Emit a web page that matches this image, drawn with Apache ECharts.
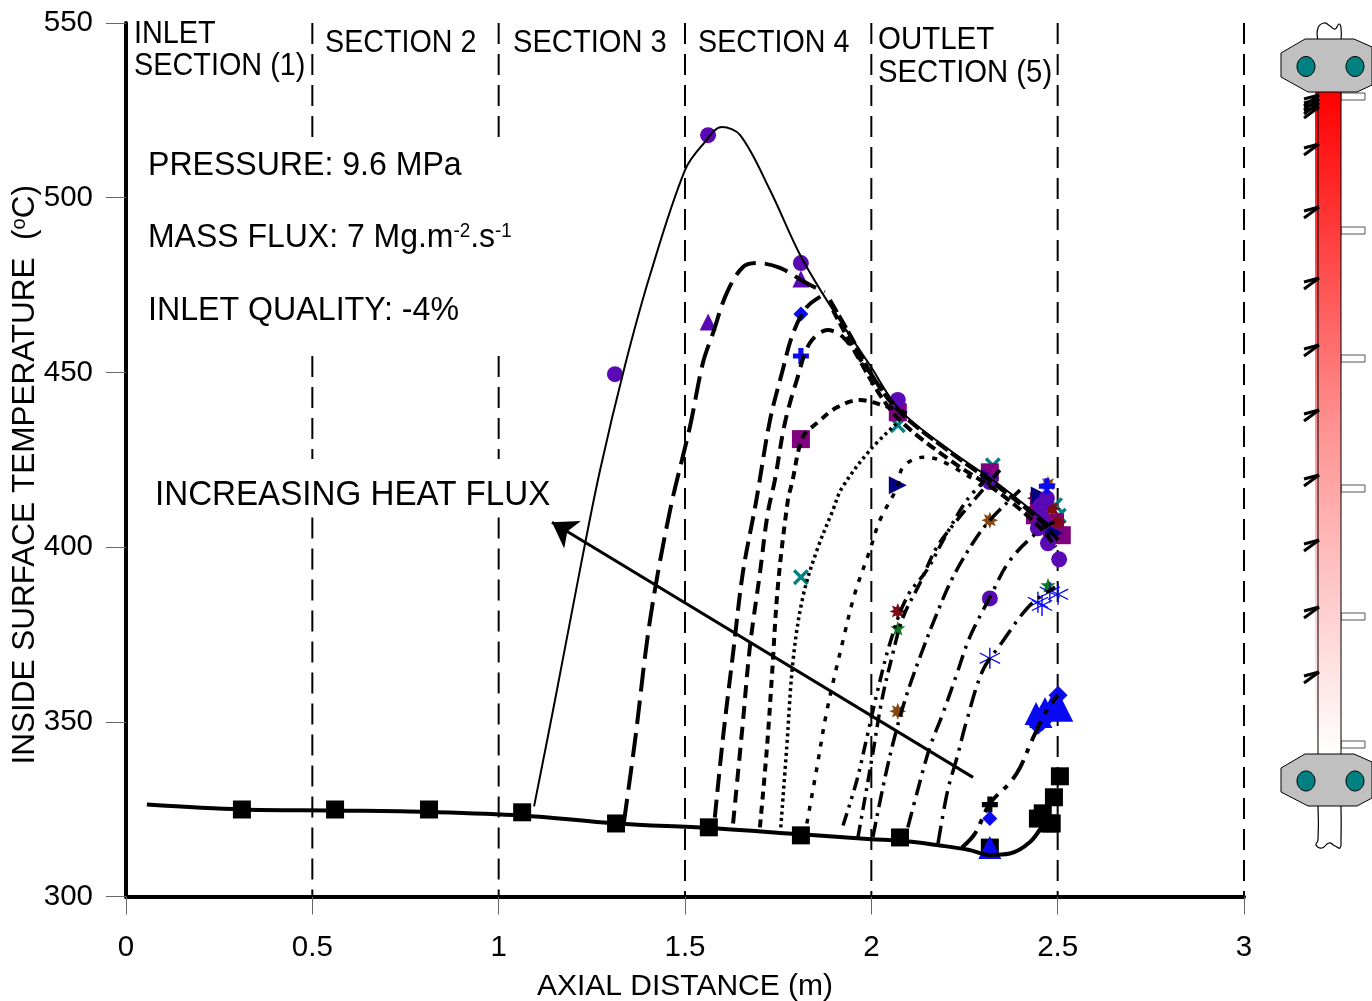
<!DOCTYPE html>
<html><head><meta charset="utf-8">
<style>html,body{margin:0;padding:0;background:#fff}#c{width:1372px;height:1001px}</style>
<script src="https://cdn.jsdelivr.net/npm/echarts@6/dist/echarts.min.js"></script>
</head><body><div id="c"></div>
<script>
const sectionLabels = ['SECTION 2','SECTION 3','SECTION 4'];
const sectionBoundariesFull = [1.5,2,2.5,3];
const sectionBoundariesSplit = [0.5,1];

const baseline = [[0.056,326.3],[0.311,324.9],[0.561,324.6],[0.813,324.2],[1.063,323.2],[1.315,320.9],[1.564,319.6],[1.811,317.8],[2.0,316.4],[2.077,316],[2.184,314.6],[2.26,313.4],[2.318,311.9],[2.372,312.3],[2.425,315.5],[2.46,320.5]];
const curve1 = [[1.095,325.8],[1.151,356.1],[1.218,393.4],[1.272,422],[1.339,452],[1.406,477.8],[1.5,507.9],[1.55,515.5],[1.599,520.2],[1.648,517.9],[1.728,502.2],[1.809,483.6],[1.889,469.2],[1.996,452.1],[2.077,439.2],[2.211,427.7],[2.345,417.7],[2.479,406.2]];
const curve2 = [[1.336,321.2],[1.366,344.7],[1.406,379],[1.46,410.6],[1.513,434.3],[1.548,452.7],[1.575,461.2],[1.612,472.7],[1.655,480.1],[1.693,481.3],[1.755,479.9],[1.822,475.8],[1.875,473]];
const curve3 = [[1.58,322.6],[1.602,345.5],[1.629,369.6],[1.655,392.5],[1.688,411.4],[1.696,416.3],[1.728,436.3],[1.76,449.8],[1.79,461.2],[1.827,468.7],[1.87,472.1]];
const curve4 = [[1.629,320.9],[1.655,349.5],[1.674,371.3],[1.701,392.5],[1.722,409.7],[1.741,419.1],[1.768,435.5],[1.8,447.8],[1.835,458.4],[1.883,462.1],[1.924,460.1],[1.977,452.7],[2.031,444.9]];
const curve5 = [[1.701,319.8],[1.72,342.7],[1.733,362.7],[1.749,388.5],[1.776,413.4],[1.787,418.3],[1.816,431.5],[1.854,435.5],[1.908,440],[1.969,442.1],[2.031,440.6],[2.095,438.3]];
const curve6 = [[1.757,319.8],[1.773,342.7],[1.79,367.6],[1.816,385.6],[1.854,399.1],[1.897,410.6],[1.921,416.9],[1.996,427.7],[2.069,435.5]];
const curve7 = [[1.827,320.9],[1.854,336.9],[1.881,353.3],[1.924,373.3],[1.956,386.8],[1.996,399.1],[2.023,407.7],[2.069,417.1],[2.085,422.9],[2.138,425.7],[2.184,424.9],[2.278,419.1]];
const curve8 = [[1.924,320.3],[1.961,333.2],[1.988,345.5],[2.015,358.1],[2.05,372.5],[2.095,385.6],[2.149,393.4],[2.197,402.8],[2.256,413.4],[2.305,419.1]];
const curve9 = [[1.964,316.9],[1.988,331.2],[2.004,341],[2.028,356.1],[2.055,368.4],[2.085,379.9],[2.13,389.6],[2.176,400],[2.23,407.7],[2.291,415.4],[2.345,422]];
const curve10 = [[2.004,316.9],[2.031,331.2],[2.058,343.8],[2.09,356.1],[2.13,368.4],[2.176,381],[2.219,391.4],[2.272,401.1],[2.318,407.7],[2.399,416.3]];
const curve11 = [[2.098,319.8],[2.122,329.5],[2.157,342.7],[2.192,352.4],[2.23,363.9],[2.264,374.2],[2.318,385.6],[2.372,396.2],[2.452,404.8],[2.501,407.7]];
const curve12 = [[2.179,315.2],[2.205,330.4],[2.23,339.8],[2.256,350.4],[2.299,364.7],[2.345,371.9],[2.425,383.3],[2.493,388.6]];
const curve13 = [[2.243,314],[2.278,318],[2.318,326.6],[2.372,332.6],[2.399,336.9],[2.431,344.7],[2.471,353.3],[2.501,357.6]];
const envelopeA = [[1.889,470.7],[1.943,460.7],[2.01,447.8],[2.077,438.6],[2.211,427.2],[2.345,416.9],[2.452,407.7],[2.501,402]];
const envelopeB = [[1.897,467.8],[2.01,445.8],[2.077,436.3],[2.211,424.9],[2.345,415.4],[2.452,405.7],[2.495,400]];
const arrowTail = [2.273,334.1];
const arrowHead = [1.143,407.1];

const blackSquares = [[0.311,324.9],[0.561,324.9],[0.813,324.9],[1.063,324.1],[1.315,320.9],[1.564,319.8],[1.811,317.5],[2.077,316.9],[2.318,314],[2.447,322.3],[2.46,323.8],[2.484,320.9],[2.474,320.9],[2.49,328.4],[2.506,334.4]];
const blueTriangles = [[2.318,314],[2.442,352.4],[2.455,351.5],[2.466,353.8],[2.484,354.4],[2.501,354.7],[2.511,353.3]];
const blueDiamondsLarge = [[2.447,349],[2.458,350],[2.468,351],[2.501,357.6],[2.479,352.7]];
const blueDiamondsSmall = [[2.318,322.3],[1.811,466.7]];
const blackCross = [[2.318,326.3]];
const blueAsterisks = [[2.318,368.2],[2.447,384.2],[2.458,383.3],[2.479,387.1],[2.501,386.5]];
const greenStars = [[2.071,376.8],[2.474,389.1]];
const redStars = [[2.071,381.6],[2.485,411],[2.501,407.1],[2.44,414]];
const brownStars = [[2.071,353],[2.318,407.7],[2.474,418]];
const purpleCircles = [[1.562,517.9],[1.312,449.5],[1.811,481.3],[2.071,442.1],[2.318,385.3],[2.504,396.5],[2.471,414],[2.455,412],[2.447,405.4],[2.452,410],[2.46,407],[2.474,401.1],[2.318,418.6]];
const purpleTriangles = [[1.562,464.4],[1.811,476.7]];
const bluePlus = [[1.811,454.7],[2.471,417.4]];
const purpleSquares = [[1.811,430.9],[2.071,438.6],[2.318,421.4],[2.439,409.1],[2.45,413],[2.511,403.4],[2.493,407.1],[2.485,404]];
const tealCrosses = [[1.811,391.4],[2.071,434.9],[2.326,423.4],[2.493,412],[2.503,409]];
const navyTriangles = [[2.071,417.7],[2.318,419.7],[2.452,414.8],[2.49,404]];

const PLUS='path://M3.4,0H6.6V3.4H10V6.6H6.6V10H3.4V6.6H0V3.4H3.4Z';
const XS='path://M1.5,0L5,3.5L8.5,0L10,1.5L6.5,5L10,8.5L8.5,10L5,6.5L1.5,10L0,8.5L3.5,5L0,1.5Z';
const STAR5='path://M5,0L6.2,3.6L10,3.6L7,5.9L8.1,9.6L5,7.4L1.9,9.6L3,5.9L0,3.6L3.8,3.6Z';
const STAR8='path://M5,0L6,2.6L8.5,1.5L7.4,4L10,5L7.4,6L8.5,8.5L6,7.4L5,10L4,7.4L1.5,8.5L2.6,6L0,5L2.6,4L1.5,1.5L4,2.6Z';
const AST='path://M4.7,0H5.3V4.5L9.1,2.3L9.4,2.8L5.6,5L9.4,7.2L9.1,7.7L5.3,5.5V10H4.7V5.5L.9,7.7L.6,7.2L4.4,5L.6,2.8L.9,2.3L4.7,4.5Z';
const FONT='"Liberation Sans",Arial,sans-serif';

function lineS(data,width,dash,z){return {type:'line',data,smooth:0.35,symbol:'none',silent:true,z:z||6,
  lineStyle:{color:'#000',width,type:dash||'solid',cap:'butt'}};}
function dotS(data,symbol,size,color,rot){return {type:'scatter',data,symbol,symbolSize:size,symbolRotate:rot||0,silent:true,z:3,itemStyle:{color,opacity:1}};}
function vline(x,y0,y1){return {type:'line',data:[[x,y0],[x,y1]],symbol:'none',silent:true,z:2,lineStyle:{color:'#000',width:2,type:[21,10],cap:'butt'}};}

const series=[];
sectionBoundariesFull.forEach(x=>series.push(vline(x,550,300)));
sectionBoundariesSplit.forEach(x=>{series.push(vline(x,550,516));series.push(vline(x,454.7,425.2));series.push(vline(x,408.5,300));});
series.push(
  dotS(tealCrosses,XS,16,'#008080'),
  dotS(purpleSquares,'rect',18,'#800080'),
  dotS(purpleTriangles,'triangle',17,'#5a0ab4'),
  dotS(redStars,STAR8,17,'#7d0a14'),
  dotS(brownStars,STAR8,17,'#85460f'),
  dotS(greenStars,STAR5,15,'#0a7a1e'),
  dotS(navyTriangles,'triangle',18,'#000080',-90),
  dotS(purpleCircles,'circle',16,'#5a0ab4'),
  dotS(bluePlus,PLUS,16,'#0a0af0'),
  dotS(blueAsterisks,AST,21,'#0a0af0'),
  dotS(blackSquares,'rect',18,'#000'),
  dotS(blackCross,PLUS,16,'#000'),
  dotS(blueDiamondsLarge,'diamond',19,'#0a0af0'),
  dotS(blueDiamondsSmall,'diamond',15,'#0a0af0'),
  dotS(blueTriangles,'triangle',23,'#0a0af0')
);
series.push(
  lineS(baseline,4),
  lineS(curve1,2),
  lineS(curve2,4,[24,9]),
  lineS(curve3,4,[18,8]),
  lineS(curve4,4,[13,8]),
  lineS(curve5,4,[8,6]),
  lineS(curve6,3.5,[3,3.5]),
  lineS(curve7,3.5,[5,8]),
  lineS(curve8,3.5,[13,6,3,6,3,6]),
  lineS(curve9,3.5,[13,6,3,6]),
  lineS(curve10,3.5,[16,6,3,6]),
  lineS(curve11,3.5,[16,7,3,7]),
  lineS(curve12,3.5,[18,7,3,7]),
  lineS(curve13,4,[22,8,5,8]),
  lineS(envelopeA,4,[14,4]),
  lineS(envelopeB,4,[10,5])
);
series.push({type:'line',data:[],silent:true,z:5,markLine:{silent:true,animation:false,symbol:['none','arrow'],symbolSize:24,
  label:{show:false},lineStyle:{color:'#000',width:3,type:'solid'},emphasis:{disabled:true},
  data:[[{coord:arrowTail},{coord:arrowHead}]]}});

const txt=(text,x,y,sx,extra)=>({type:'text',x,y,scaleX:sx,silent:true,z:20,style:Object.assign({text,font:'31px '+FONT,fill:'#000'},extra||{})});
const graphic=[
  txt('INLET',134,19,.93),txt('SECTION (1)',134,51,.93),
  txt(sectionLabels[0],325,28,.925),txt(sectionLabels[1],513,28,.94),txt(sectionLabels[2],698,28,.925),
  txt('OUTLET',878,25,.95),txt('SECTION (5)',878,58,.945),
  txt('PRESSURE: 9.6 MPa',148,149,.943,{font:'34px '+FONT}),
  txt('MASS FLUX: 7 Mg.m{s|-2}.s{s|-1}',148,221,.94,{font:'34px '+FONT,rich:{s:{font:'20px '+FONT,verticalAlign:'top',padding:[0,0,14,0],fill:'#000'}}}),
  txt('INLET QUALITY: -4%',148,294,.946,{font:'34px '+FONT}),
  txt('INCREASING HEAT FLUX',155,478,.947,{font:'35px '+FONT}),
];
// apparatus schematic
const gs=[];
const wall={stroke:'#000',lineWidth:1.2,fill:'none'};
gs.push({type:'polyline',shape:{smooth:0.5,points:[[1318,40],[1318,28],[1324,23],[1330,26],[1335,29],[1339,24],[1341,28],[1341,40]]},style:Object.assign({},wall)});
gs.push({type:'polyline',shape:{smooth:0.5,points:[[1318,806],[1318,840],[1316,845],[1322,848],[1329,843],[1335,846],[1340,848],[1341,840],[1341,806]]},style:Object.assign({},wall)});
[96,230,358,488,616,744].forEach(y=>gs.push({type:'rect',shape:{x:1341,y:y-3,width:24,height:7},style:{fill:'#fff',stroke:'#555',lineWidth:1}}));
gs.push({type:'rect',shape:{x:1315,y:92,width:26,height:662},style:{fill:new echarts.graphic.LinearGradient(0,0,0,1,[{offset:0,color:'#ff0000'},{offset:0.15,color:'#ff2a2a'},{offset:0.5,color:'#ff9090'},{offset:1,color:'#ffffff'}])}});
gs.push({type:'line',shape:{x1:1318,y1:92,x2:1318,y2:754},style:{stroke:'#000',lineWidth:1}});
gs.push({type:'line',shape:{x1:1341,y1:92,x2:1341,y2:754},style:{stroke:'#000',lineWidth:1}});
[[39,92,53,77,47,85],[754,806,768,792,762,798]].forEach(f=>{
  gs.push({type:'polygon',shape:{points:[[1281,f[2]],[1305,f[0]],[1354,f[0]],[1372,f[4]],[1372,f[5]],[1357,f[1]],[1308,f[1]],[1281,f[3]]]},style:{fill:'#c0c0c0',stroke:'#000',lineWidth:1}});
  const cy=(f[0]+f[1])/2+1;
  [1306,1355].forEach(cx=>gs.push({type:'ellipse',shape:{cx,cy,rx:9,ry:10},style:{fill:'#008080',stroke:'#000',lineWidth:1}}));
});
[101,105,109,113,150,213,284,351,416,481,546,613,678].forEach(y=>{
  gs.push({type:'polyline',shape:{points:[[1304,y-2],[1319,y-6]]},style:{stroke:'#000',lineWidth:3,fill:'none'}});
  gs.push({type:'polyline',shape:{points:[[1304,y+5],[1319,y-6]]},style:{stroke:'#000',lineWidth:3,fill:'none'}});
});
gs.forEach(g=>{g.silent=true;g.z=1;graphic.push(g);});

const chart=echarts.init(document.getElementById('c'),null,{renderer:'canvas'});
chart.setOption({
  animation:false,backgroundColor:'#fff',
  grid:{left:126,right:128,top:23,bottom:104.5,outerBoundsMode:'none',containLabel:false},
  xAxis:{type:'value',min:0,max:3,interval:0.5,name:'AXIAL DISTANCE (m)',nameLocation:'middle',nameGap:75,
    nameTextStyle:{fontFamily:FONT,fontSize:30,color:'#000'},
    axisLine:{show:true,lineStyle:{color:'#000',width:4}},axisTick:{show:true,length:18,lineStyle:{color:'#666',width:1}},
    axisLabel:{fontFamily:FONT,fontSize:29.5,color:'#000',margin:36,formatter:v=>String(v)},splitLine:{show:false}},
  yAxis:{type:'value',min:300,max:550,interval:50,name:'INSIDE SURFACE TEMPERATURE  ({o|o}C)',nameLocation:'middle',nameGap:85,nameRotate:90,nameMoveOverlap:false,
    nameTextStyle:{fontFamily:FONT,fontSize:31.5,color:'#000',padding:[0,30,0,0],rich:{o:{fontFamily:FONT,fontSize:20,color:'#000',verticalAlign:'top'}}},
    axisLine:{show:true,onZero:false,lineStyle:{color:'#000',width:4}},axisTick:{show:true,length:20,lineStyle:{color:'#666',width:1}},
    axisLabel:{fontFamily:FONT,fontSize:29.5,color:'#000',margin:33},splitLine:{show:false}},
  series,graphic
});
</script></body></html>
